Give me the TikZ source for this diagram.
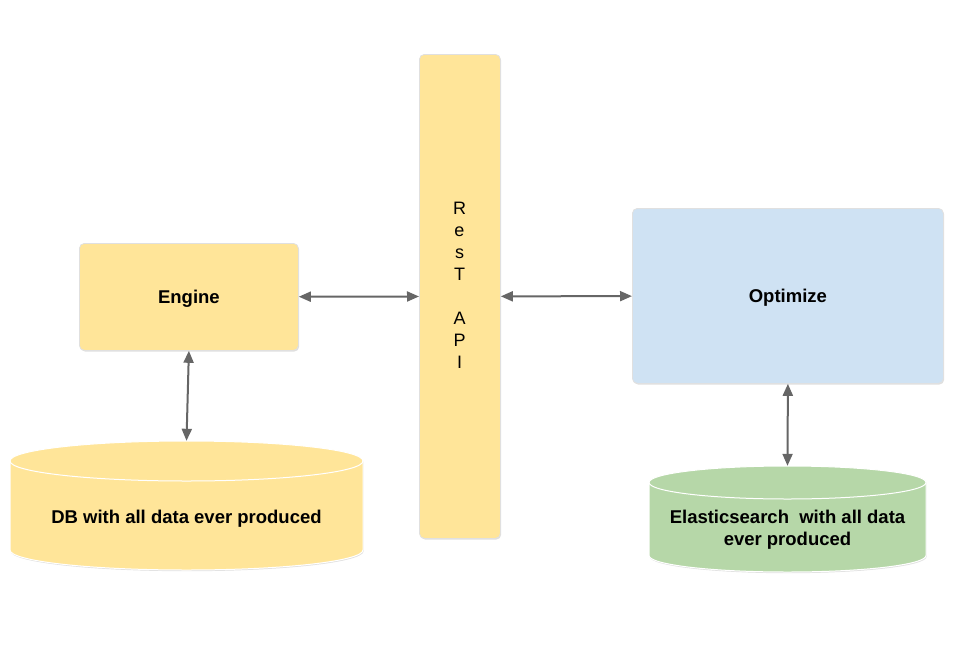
\documentclass[tikz,border=0pt]{standalone}
\usepackage{fontspec}
\setmainfont{Liberation Sans}
\usetikzlibrary{arrows.meta,shadows}

\definecolor{softyellow}{HTML}{FFE599}
\definecolor{softblue}{HTML}{CFE2F3}
\definecolor{softgreen}{HTML}{B6D7A8}
\definecolor{linkgray}{HTML}{666666}

\begin{document}
\begin{tikzpicture}[x=1pt,y=-1pt,
    box/.style={draw=black!12, line width=0.8pt, rounded corners=5pt, anchor=north west, inner sep=0pt,
        font=\fontsize{18.5}{22}\selectfont\bfseries, text height=13.3pt, text depth=0pt,
        drop shadow={shadow xshift=0.8pt, shadow yshift=-1.2pt, opacity=0.25}},
    cyl/.style={draw=white, line width=1pt,
        drop shadow={shadow xshift=0.6pt, shadow yshift=-1.2pt, opacity=0.25}},
    cyltext/.style={font=\fontsize{18.5}{22}\selectfont\bfseries, align=center, inner sep=0pt},
    link/.style={draw=linkgray, line width=2pt,
        {Triangle[length=12pt,width=10pt]}-{Triangle[length=12pt,width=10pt]}}]
    \useasboundingbox (0,0) rectangle (959,659);

    % databases
    \path[cyl, fill=softyellow] (10,461) -- (10,550)
        arc[start angle=180, end angle=0, x radius=176.5, y radius=20] -- (363,461)
        arc[start angle=0, end angle=-180, x radius=176.5, y radius=20] -- cycle;
    \draw[white, line width=1pt] (10,461) arc[start angle=180, end angle=0, x radius=176.5, y radius=20];
    \node[minimum width=353pt, minimum height=129pt, inner sep=0pt] (db) at (186.5,505.5) {};
    \node[cyltext] (dbtext) at (186.5,519) {DB with all data ever produced};

    \path[cyl, fill=softgreen] (649,482.5) -- (649,555.5)
        arc[start angle=180, end angle=0, x radius=138.5, y radius=16.5] -- (926,482.5)
        arc[start angle=0, end angle=-180, x radius=138.5, y radius=16.5] -- cycle;
    \draw[white, line width=1pt] (649,482.5) arc[start angle=180, end angle=0, x radius=138.5, y radius=16.5];
    \node[minimum width=277pt, minimum height=106pt, inner sep=0pt] (es) at (787.5,519) {};
    \node[cyltext] (estext) at (787.5,530) {Elasticsearch\ \ with all data\\ever produced};

    % components
    \node[box, fill=softyellow, minimum width=219pt, minimum height=107pt] (engine) at (79,243) {Engine};
    \node[box, fill=softyellow, minimum width=81pt, minimum height=484pt] (rest) at (419,54) {};
    \node[font=\fontsize{18}{22}\selectfont, align=center, inner sep=0pt] (restlabel) at (459.5,285)
        {R\\e\\s\\T\\[22pt]A\\P\\I};
    \node[box, fill=softblue, minimum width=311pt, minimum height=175pt] (optimize) at (632,208) {Optimize};

    % links
    \draw[link] (engine) -- (rest);
    \draw[link] (rest) -- (optimize);
    \draw[link] (engine.south) -- (db.north);
    \draw[link] (optimize.south) -- (es.north);
\end{tikzpicture}
\end{document}
